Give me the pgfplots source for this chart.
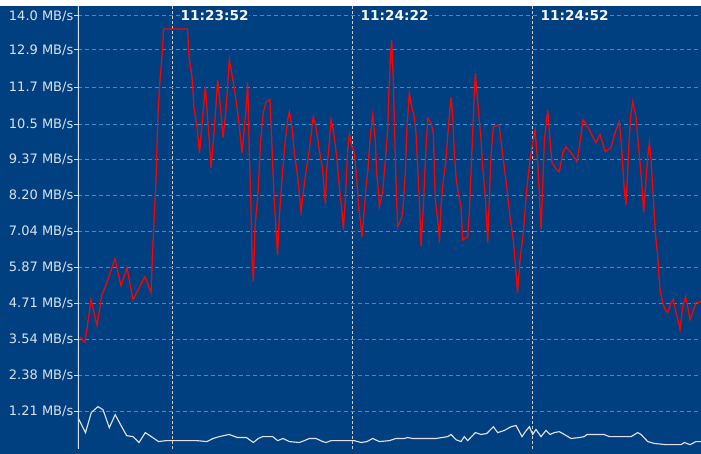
\documentclass[border=0pt]{standalone}
\usepackage{fontspec}
\setmainfont{DejaVu Sans}
\usepackage{pgfplots}
\usepackage{pgfplotstable}
\pgfplotsset{compat=1.18}
\definecolor{bgblue}{RGB}{0,64,128}
\definecolor{gridblue}{RGB}{35,150,215}
\definecolor{vgrey}{RGB}{205,205,205}
\definecolor{lbl}{RGB}{218,226,236}
\definecolor{rateline}{RGB}{255,0,0}
\definecolor{lowline}{RGB}{225,225,230}

% time in s relative to 11:23:52, rate in MB/s
\pgfplotstableread{
t v
-15.42 3.63
-14.58 3.44
-13.58 4.83
-12.58 3.99
-11.75 4.99
-10.92 5.38
-9.58 6.15
-8.58 5.28
-7.58 5.86
-6.58 4.83
-4.58 5.57
-3.58 5.05
-3.25 6.67
-2.75 8.70
-2.42 10.87
-2.08 11.93
-1.63 13.00
-1.50 13.58
2.50 13.58
2.75 12.68
3.25 12.03
3.58 11.06
4.08 10.41
4.50 9.57
5.47 11.71
6.08 10.09
6.42 9.09
6.92 10.22
7.53 11.93
8.08 10.87
8.42 10.06
8.92 10.96
9.47 12.58
10.08 11.93
10.58 11.29
11.03 10.64
11.58 9.57
12.25 10.96
12.53 11.84
12.83 9.35
13.08 7.83
13.25 6.21
13.47 5.41
13.75 7.18
14.25 8.28
14.70 9.99
15.13 10.87
15.58 11.22
16.25 11.29
16.53 9.99
16.92 8.15
17.50 6.28
17.80 7.51
18.37 9.03
18.80 9.99
19.20 10.64
19.47 10.90
19.92 10.41
20.30 9.57
20.87 8.80
21.13 8.28
21.42 7.67
21.70 8.15
22.13 8.80
22.80 9.67
23.25 10.41
23.47 10.74
23.92 10.41
24.37 9.77
25.03 9.03
25.30 8.28
25.47 7.93
25.70 9.03
26.03 9.67
26.42 10.64
26.80 10.32
27.37 9.45
27.80 8.48
28.25 7.64
28.47 7.09
28.80 8.06
29.20 9.67
29.47 10.16
29.92 9.77
30.30 9.57
30.58 9.03
31.03 7.83
31.42 7.18
31.58 6.86
31.97 7.73
32.25 8.48
32.53 8.93
32.92 9.99
33.37 10.80
33.80 9.99
34.03 8.93
34.37 8.28
34.47 7.83
35.03 8.28
35.47 9.35
35.87 10.32
36.03 11.38
36.30 12.58
36.53 13.22
36.70 12.48
36.97 10.74
37.13 9.45
37.37 7.96
37.53 7.18
38.08 7.41
38.37 7.64
38.80 8.93
39.08 10.41
39.47 11.51
39.87 11.06
40.30 10.74
40.58 10.22
40.87 9.03
41.13 8.06
41.42 6.54
41.80 7.83
42.13 9.25
42.53 10.70
43.08 10.54
43.47 10.22
43.80 8.06
44.37 7.09
44.47 6.67
44.75 7.83
45.13 8.70
45.58 9.35
46.03 10.54
46.42 11.38
46.70 10.74
46.97 9.57
47.25 8.80
47.53 8.38
48.08 7.83
48.37 6.76
49.20 6.86
49.47 7.64
49.75 8.93
50.03 10.22
50.30 11.51
50.47 12.16
50.70 11.61
51.03 10.87
51.42 9.99
51.70 9.12
52.13 8.15
52.53 6.67
52.80 8.06
53.08 9.45
53.47 10.41
54.42 10.48
54.87 9.77
55.13 9.35
55.70 8.48
56.25 7.51
56.80 6.76
57.25 5.70
57.50 5.05
57.92 6.12
58.47 6.99
59.03 8.38
59.58 9.35
60.03 9.90
60.42 10.32
60.87 9.25
61.13 8.28
61.42 7.09
61.70 8.48
61.97 9.99
62.53 10.96
62.92 9.99
63.25 9.25
64.03 9.03
64.47 8.96
65.03 9.57
65.58 9.77
66.70 9.51
67.42 9.28
67.97 9.99
68.42 10.64
69.25 10.41
70.03 10.09
70.58 9.90
71.25 10.16
72.13 9.61
73.08 9.74
73.80 10.25
74.47 10.58
74.92 9.57
75.25 8.48
75.58 7.89
75.87 9.03
76.13 10.09
76.42 10.87
76.70 11.22
77.25 10.74
77.53 10.09
77.92 9.25
78.25 8.48
78.53 7.64
78.92 8.70
79.20 9.45
79.47 9.90
79.75 9.35
80.13 8.15
80.47 6.99
80.87 6.21
81.25 5.15
81.70 4.73
82.13 4.50
82.53 4.41
83.08 4.73
83.47 4.83
83.92 4.41
84.37 4.08
84.58 3.86
85.03 4.60
85.47 4.92
85.87 4.60
86.25 4.18
86.70 4.41
87.25 4.73
88.08 4.76
}\ratehigh

\pgfplotstableread{
t v
-15.67 0.98
-14.50 0.53
-13.53 1.18
-12.42 1.37
-11.58 1.27
-10.53 0.69
-9.55 1.11
-8.58 0.76
-7.63 0.43
-6.58 0.40
-5.58 0.21
-4.53 0.53
-3.53 0.40
-2.33 0.24
-1.08 0.27
4.08 0.27
5.75 0.24
6.75 0.34
7.80 0.40
9.42 0.47
10.83 0.37
12.33 0.37
13.47 0.21
14.30 0.34
15.03 0.40
16.70 0.40
17.53 0.27
18.42 0.34
19.47 0.24
21.13 0.21
21.97 0.27
22.80 0.34
23.92 0.34
25.03 0.24
25.58 0.21
26.42 0.27
30.30 0.27
31.42 0.21
32.42 0.24
33.37 0.34
34.47 0.24
36.13 0.27
37.25 0.34
38.58 0.34
39.20 0.37
40.03 0.34
43.92 0.34
45.87 0.40
46.42 0.47
47.25 0.30
48.08 0.24
48.63 0.40
49.20 0.27
50.47 0.53
51.42 0.47
52.37 0.50
53.47 0.72
54.20 0.53
55.30 0.60
56.42 0.72
57.25 0.76
57.70 0.60
58.25 0.40
58.80 0.56
59.47 0.72
60.03 0.47
60.58 0.63
61.42 0.40
62.25 0.60
62.92 0.47
63.63 0.53
64.47 0.56
65.30 0.47
66.42 0.34
67.80 0.37
68.63 0.40
69.08 0.47
71.92 0.47
72.80 0.40
76.42 0.40
77.53 0.53
78.08 0.47
79.20 0.24
80.30 0.18
82.25 0.14
84.75 0.14
85.30 0.21
86.25 0.14
87.25 0.24
88.08 0.24
}\ratelow

\begin{document}
\begin{tikzpicture}[
    tlabel/.style={anchor=west, xshift=5.3bp, inner sep=0.6bp, fill=bgblue, text=white!92!gray,
      font=\bfseries\fontsize{10.25bp}{11bp}\selectfont},
]
\fill[bgblue] (-58.5bp,-3.75bp) rectangle (467.25bp,332.25bp);
\fill[white] (-58.5bp,332.25bp) rectangle (467.25bp,336.75bp);
\begin{axis}[
    at={(0,0)}, anchor=south west,
    scale only axis,
    width=467.25bp, height=332.25bp,
    xmin=-15.75, xmax=88.08,
    ymin=0, ymax=14.32,
    axis line style={draw=none},
    xtick={0,30,60}, xticklabels={},
    major x tick style={draw=none},
    xmajorgrids,
    x grid style={vgrey, line width=0.9bp, dash pattern=on 2.25bp off 1.5bp},
    ytick={1.21,2.38,3.54,4.71,5.87,7.04,8.20,9.37,10.5,11.7,12.9,14.0},
    yticklabels={1.21 MB/s,2.38 MB/s,3.54 MB/s,4.71 MB/s,5.87 MB/s,7.04 MB/s,8.20 MB/s,9.37 MB/s,10.5 MB/s,11.7 MB/s,12.9 MB/s,14.0 MB/s},
    ytick pos=left,
    tick align=outside,
    major tick length=3bp,
    major y tick style={lbl, line width=0.75bp},
    ymajorgrids,
    y grid style={gridblue, line width=0.75bp, dash pattern=on 3bp off 2.25bp},
    yticklabel style={font=\fontsize{9.75bp}{11bp}\selectfont, text=lbl, inner sep=0pt, xshift=-0.3bp},
]
\addplot[rateline, line width=0.95bp] table[x=t, y=v] {\ratehigh};
\addplot[lowline, line width=0.85bp] table[x=t, y=v] {\ratelow};
\draw[lbl, line width=0.9bp] (rel axis cs:0,-0.02) -- (rel axis cs:0,1);
\node[tlabel] at (axis cs:0,14.0) {11:23:52};
\node[tlabel] at (axis cs:30,14.0) {11:24:22};
\node[tlabel] at (axis cs:60,14.0) {11:24:52};
\end{axis}
\pgfresetboundingbox
\useasboundingbox (-58.5bp,-3.75bp) rectangle (467.25bp,336.75bp);
\end{tikzpicture}
\end{document}
